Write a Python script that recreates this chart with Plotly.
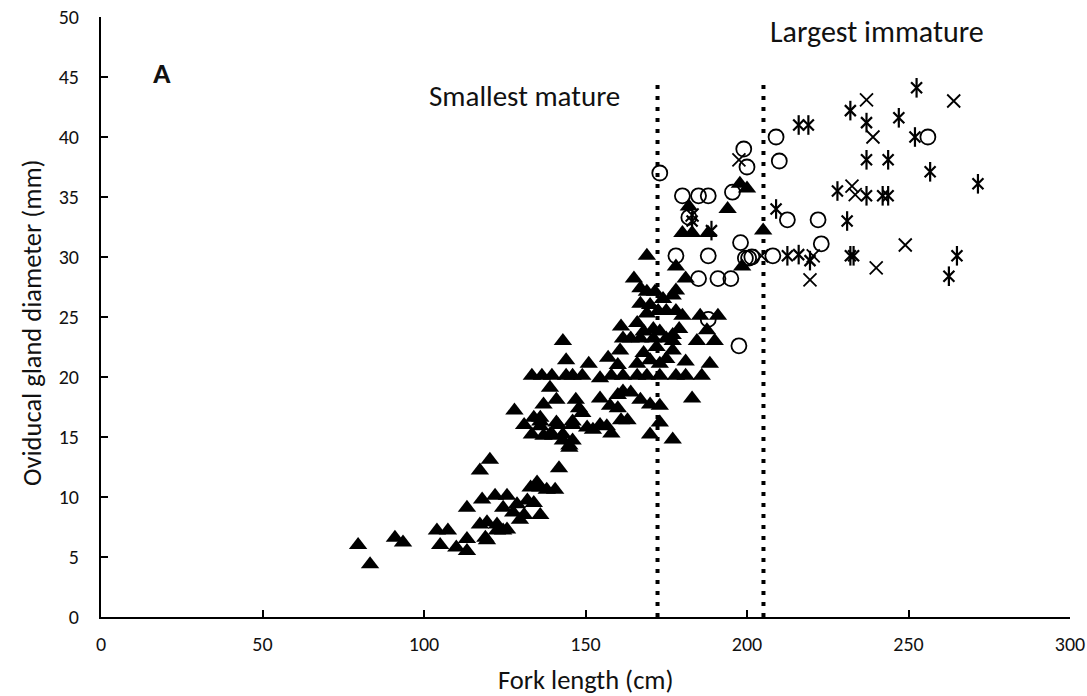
import plotly.graph_objects as go

# ---------------- data ----------------
tri_x = [79.6, 83.3, 91, 93.5, 104, 105, 107.4, 110, 113.3, 113.3,
         113.3, 117.3, 117.3, 118, 119, 119.5, 119.5, 120.4, 122, 122.6,
         122.6, 124.5, 124.5, 125.7, 125.7, 127.6, 128, 128.8, 129.7, 131,
         131, 132, 133, 133.4, 133.4, 134, 134, 135, 136, 136,
         136, 136, 136.5, 137, 138, 139.6, 139, 140, 140.6, 141.5,
         141.8, 143, 143, 144, 145, 146, 146, 147,
         197.8, 200, 194, 205, 182, 180, 183, 188, 169, 178,
         181, 198.5, 165, 167, 169, 171.5, 177, 178, 167, 169,
         172.5, 175, 178, 180, 185.5, 191, 161, 166, 168, 171,
         173, 177, 177, 161.6, 164, 167, 171, 175, 184.5, 187.6,
         190, 177, 160.7, 157, 144, 151, 160, 166, 170, 173,
         181, 188.5, 149, 154.5, 158, 161.6, 166, 169, 173, 178,
         181, 186, 137, 141, 148, 154.5, 160, 161.6, 164, 167,
         170, 173, 183, 157.6, 160, 136, 141, 146, 149, 150.5,
         152.3, 154.5, 156.6, 161, 163, 173, 139, 143, 146, 145,
         158, 170, 177, 168, 172, 175, 179, 174, 170]
tri_y = [6.0, 4.4, 6.6, 6.2, 7.2, 6.0, 7.2, 5.8, 9.1, 6.5,
         5.5, 12.2, 7.7, 9.8, 6.6, 7.9, 6.4, 13.1, 10.1, 7.7,
         7.2, 9.1, 7.2, 10.1, 7.3, 8.7, 17.2, 9.4, 8.1, 16.0,
         8.5, 9.7, 10.8, 20.1, 15.2, 16.6, 9.5, 11.2, 16.6, 15.9,
         10.8, 8.5, 20.1, 15.1, 10.6, 20.1, 19.1, 15.1, 10.6, 16.0,
         12.4, 23.0, 14.7, 20.1, 14.3, 20.1, 16.0, 18.1,
         36.1, 35.7, 34.0, 32.2, 34.2, 32.0, 32.0, 32.0, 30.1, 29.2,
         28.2, 29.2, 28.2, 27.4, 27.1, 27.1, 26.8, 27.2, 26.1, 25.3,
         25.5, 25.5, 25.5, 25.1, 25.1, 25.1, 24.2, 24.5, 23.8, 24.0,
         23.8, 23.5, 23.0, 23.2, 23.2, 23.2, 23.2, 23.2, 23.0, 23.9,
         23.0, 22.2, 22.2, 21.6, 21.4, 21.1, 21.0, 21.1, 21.4, 21.1,
         21.3, 21.1, 20.1, 19.9, 20.1, 20.1, 20.1, 20.1, 20.1, 20.1,
         20.1, 20.1, 17.7, 18.1, 17.4, 18.2, 18.5, 18.8, 18.7, 18.1,
         17.7, 17.6, 18.2, 17.6, 17.4, 16.3, 16.2, 16.3, 17.0, 15.8,
         15.6, 16.0, 15.9, 16.4, 16.4, 16.2, 15.2, 15.2, 14.7, 14.1,
         15.3, 15.2, 14.8, 22.0, 22.5, 21.5, 24.0, 26.5, 26.0]

circ_x = [173, 180, 185, 188, 195.5, 182, 199, 200, 209, 210, 178, 188, 198, 199.5, 200.5, 201.5, 208,
          185, 191, 195, 188, 197.5, 212.5, 222, 223, 256]
circ_y = [37.0, 35.1, 35.1, 35.1, 35.4, 33.3, 39.0, 37.5, 40.0, 38.0, 30.1, 30.1, 31.2, 29.9, 29.9, 30.0, 30.1,
          28.2, 28.2, 28.2, 24.8, 22.6, 33.1, 33.1, 31.1, 40.0]

cross_x = [197.5, 183, 204.5, 220.5, 219.5, 232.5, 237, 239, 264, 249, 240, 233.5]
cross_y = [38.1, 33.5, 30.1, 30.1, 28.1, 35.9, 43.1, 40.0, 43.0, 31.0, 29.1, 35.2]

star_x = [183, 189, 209, 212.5, 216, 219.5, 216, 219, 228, 231, 232, 233, 232, 237, 237, 237, 242, 243.7,
          243.7, 247, 252.5, 252, 256.7, 265, 262.5, 271.5]
star_y = [33.0, 32.2, 34.0, 30.1, 30.2, 29.7, 41.0, 41.0, 35.5, 33.0, 30.1, 30.1, 42.2, 41.2, 38.1, 35.1, 35.1, 35.1,
          38.1, 41.6, 44.1, 40.0, 37.1, 30.1, 28.4, 36.1]

smallest_mature_x = [172.3, 172.3]
largest_immature_x = [205.1, 205.1]
ref_line_y = [0, 44.8]

x_ticks = [0, 50, 100, 150, 200, 250, 300]
y_ticks = [0, 5, 10, 15, 20, 25, 30, 35, 40, 45, 50]

FONT = "Calibri, Carlito, Lato, sans-serif"
INK = "#111111"

fig = go.Figure()

for lx in (smallest_mature_x, largest_immature_x):
    fig.add_trace(go.Scatter(x=lx, y=ref_line_y, mode="lines",
                             line=dict(color="black", width=4, dash="4px,7px"),
                             hoverinfo="skip", showlegend=False))

fig.add_trace(go.Scatter(x=tri_x, y=tri_y, mode="markers",
                         marker=dict(symbol="triangle-up", size=16, color="black",
                                     line=dict(width=0)), showlegend=False))
fig.add_trace(go.Scatter(x=circ_x, y=circ_y, mode="markers",
                         marker=dict(symbol="circle-open", size=15, color="black",
                                     line=dict(width=1.8)), showlegend=False))
fig.add_trace(go.Scatter(x=cross_x, y=cross_y, mode="markers",
                         marker=dict(symbol="x-thin-open", size=13, color="black",
                                     line=dict(width=1.8, color="black")), showlegend=False))
fig.add_trace(go.Scatter(x=star_x, y=star_y, mode="markers",
                         marker=dict(symbol="x-thin-open", size=11, color="black",
                                     line=dict(width=2.2, color="black")), showlegend=False))
fig.add_trace(go.Scatter(x=star_x, y=star_y, mode="markers",
                         marker=dict(symbol="line-ns-open", size=14, color="black",
                                     line=dict(width=2.2, color="black")), showlegend=False))

fig.add_annotation(x=19, y=45.3, text="<b>A</b>", showarrow=False,
                   font=dict(family=FONT, size=29, color=INK))
fig.add_annotation(x=131, y=43.4, text="Smallest mature", showarrow=False,
                   font=dict(family=FONT, size=29, color=INK))
fig.add_annotation(x=240.3, y=48.8, text="Largest immature", showarrow=False,
                   font=dict(family=FONT, size=30, color=INK))

# axis titles
fig.add_annotation(xref="paper", yref="paper", x=0.5, y=-0.1055, text="Fork length (cm)",
                   showarrow=False, xanchor="center", yanchor="middle",
                   font=dict(family=FONT, size=26.5, color=INK))
fig.add_annotation(xref="paper", yref="paper", x=-0.0712, y=0.49, text="Oviducal gland diameter (mm)",
                   showarrow=False, xanchor="center", yanchor="middle", textangle=-90,
                   font=dict(family=FONT, size=26.5, color=INK))

fig.update_layout(
    width=1087, height=696,
    margin=dict(l=101, r=17, t=17, b=79),
    paper_bgcolor="white", plot_bgcolor="white",
    font=dict(family=FONT, size=20, color=INK),
    showlegend=False,
)
fig.update_xaxes(range=[0, 300], tickvals=x_ticks, ticks="inside", ticklen=7, tickwidth=1.5,
                 tickcolor="black", showline=True, linecolor="black", linewidth=2,
                 showgrid=False, zeroline=False, ticklabelstandoff=8, automargin=False,
                 tickfont=dict(family=FONT, size=20, color=INK))
fig.update_yaxes(range=[0, 50], tickvals=y_ticks, ticks="inside", ticklen=7, tickwidth=1.5,
                 tickcolor="black", showline=True, linecolor="black", linewidth=2,
                 showgrid=False, zeroline=False, ticklabelstandoff=16, automargin=False,
                 tickfont=dict(family=FONT, size=20, color=INK))

fig.write_html("out.html")
